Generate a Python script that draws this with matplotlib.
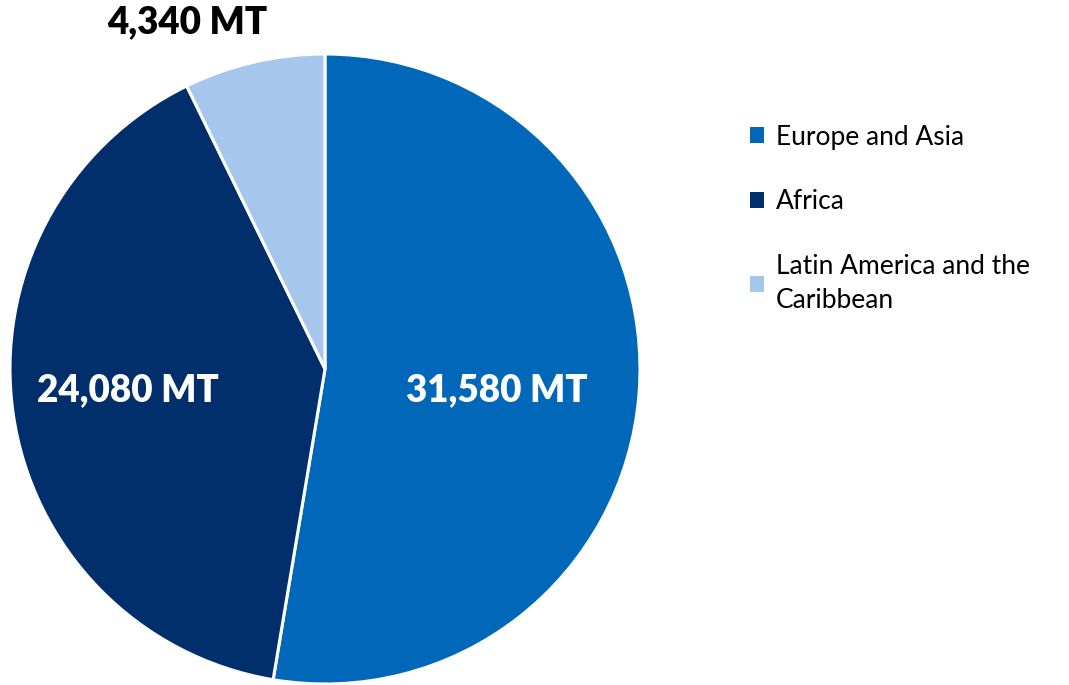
import matplotlib
matplotlib.use("Agg")
from matplotlib import pyplot as plt
from matplotlib.patches import Patch

regions = ["Europe and Asia", "Africa", "Latin America and the\nCaribbean"]
volumes = [31580, 24080, 4340]
labels = ["31,580 MT", "24,080 MT", "4,340 MT"]
colors = ["#0067B9", "#002F6C", "#A7C6ED"]

plt.rcParams['font.family'] = ['Lato', 'DejaVu Sans']

fig = plt.figure(figsize=(10.69, 6.85), dpi=100)
ax = fig.add_axes([10/1069, 1/685, 630/1069, 630/685])

wedges, _ = ax.pie(volumes, colors=colors, startangle=90, counterclock=False,
                   radius=1, wedgeprops=dict(edgecolor="white", linewidth=2.2))
ax.set_xlim(-1, 1)
ax.set_ylim(-1, 1)
ax.set_aspect("equal")
ax.axis("off")

# label positions (data coords of the pie axes)
label_pos = [(0.546, -0.067, "white"), (-0.625, -0.067, "white"), (-0.438, 1.10, "black")]
for txt, (x, y, c) in zip(labels, label_pos):
    ax.text(x, y, txt, ha="center", va="center", fontsize=26.5, fontweight="heavy",
            color=c, clip_on=False)

handles = [Patch(facecolor=c, edgecolor="none") for c in colors]
leg = fig.legend(handles, regions, loc="upper left", bbox_to_anchor=(739/1069, 1 - 114/685),
                 frameon=False, fontsize=19, handlelength=0.55, handleheight=0.55,
                 handletextpad=0.45, labelspacing=1.5, borderaxespad=0)
for t in leg.get_texts():
    t.set_linespacing(1.45)

fig.savefig("out.png", dpi=100)
